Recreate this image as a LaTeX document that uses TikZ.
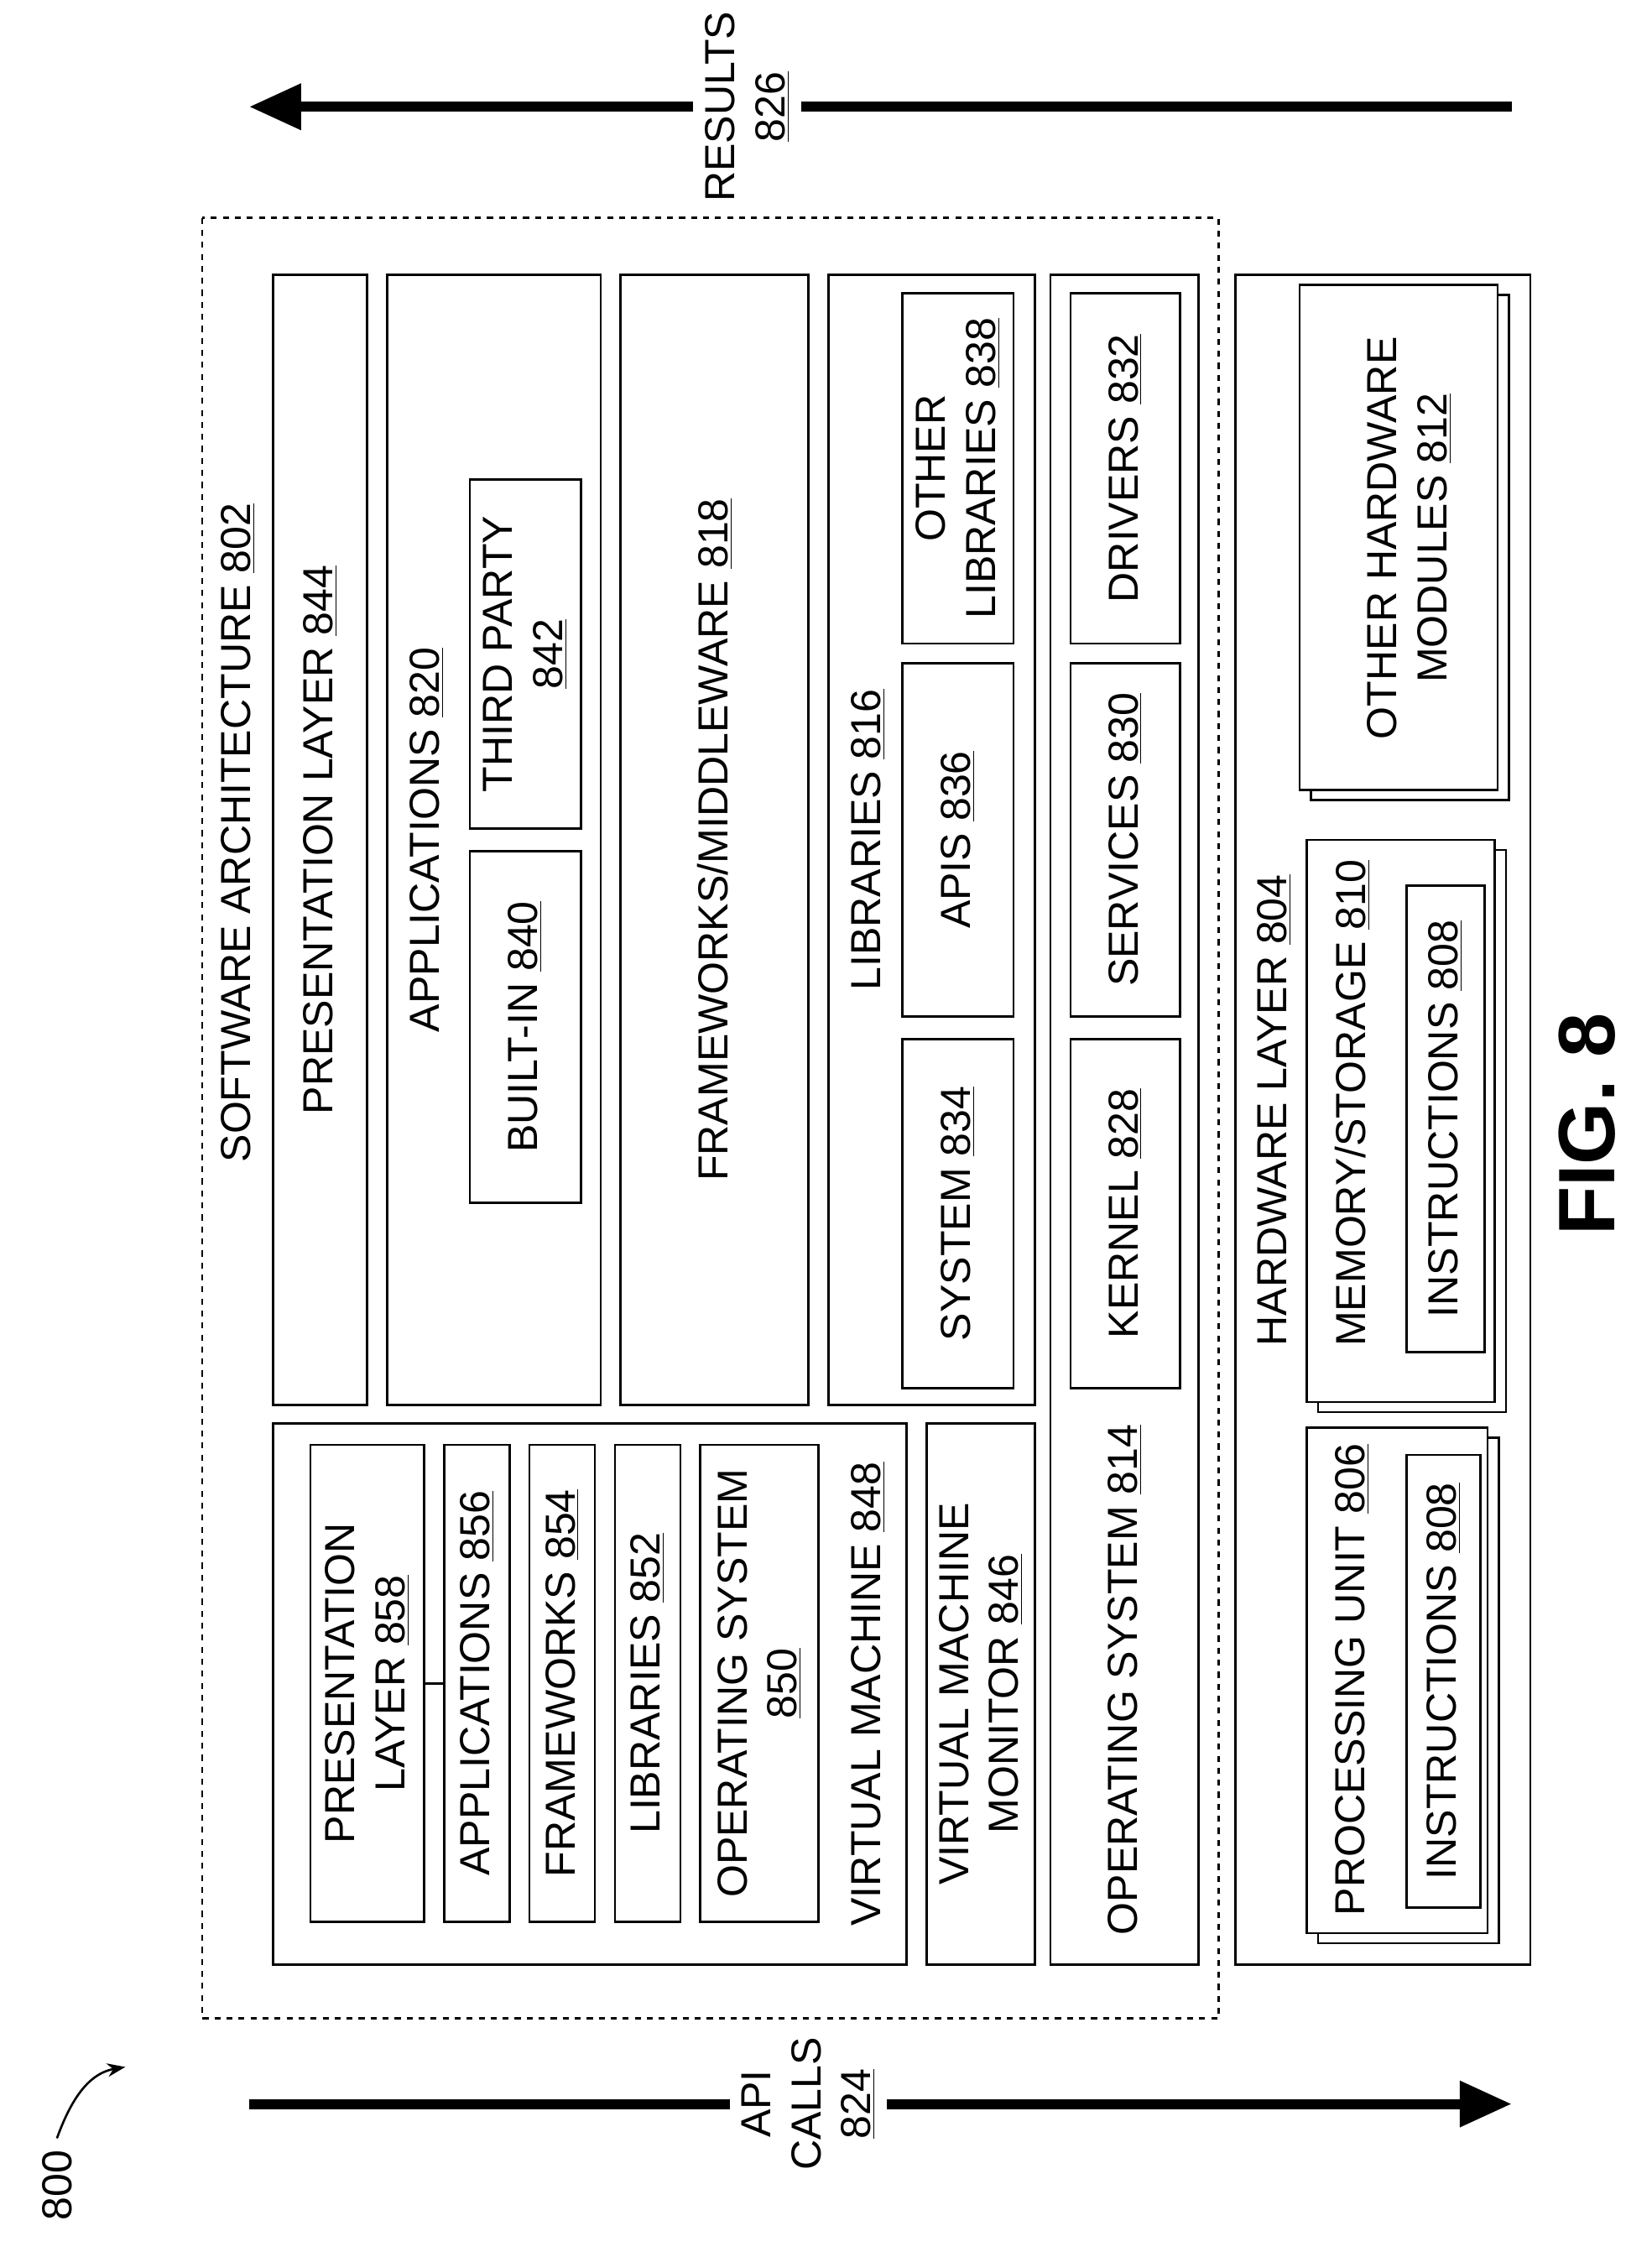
\documentclass[tikz,border=0pt]{standalone}
\usepackage{fontspec}
\setmainfont{Liberation Sans}
\usetikzlibrary{arrows.meta}
\tikzset{
  blk/.style={draw, line width=1.1pt, rotate=90, inner sep=0pt, align=center, font=\fontsize{21}{25}\selectfont},
  lbl/.style={rotate=90, inner sep=0pt, align=center, font=\fontsize{21}{25}\selectfont},
  bigarrow/.style={line width=5pt, -{Triangle[length=26pt,width=22pt]}}
}
% box from (x1,y1) to (x2,y2), text upright along the box
\newcommand\blkbox[6]{%
  \node[blk, minimum width={(#5-#3)*0.25mm}, minimum height={(#4-#2)*0.25mm}] (#1) at ({(#2+#4)/2},{(#3+#5)/2}) {#6};}
\begin{document}
\begin{tikzpicture}[x=0.25mm, y=-0.25mm]
  \useasboundingbox (0,0) rectangle (1160,1582);
  % arrows
  \coordinate (resA) at (1062,75);
  \coordinate (resB) at (175,75);
  \coordinate (apiA) at (175,1478);
  \coordinate (apiB) at (1062,1478);
  \draw[bigarrow] (resA) -- (resB);
  \draw[bigarrow] (apiA) -- (apiB);
  \node[lbl, fill=white, inner sep=6pt] (results) at (525,75) {RESULTS\\\underline{826}};
  \node[lbl, fill=white, inner sep=6pt] (api) at (568,1478) {API\\CALLS\\\underline{824}};
  \node[lbl] (fig800) at (40,1535) {800};
  \coordinate (ref800) at (88,1452);
  \draw[line width=1.1pt, -{Stealth[length=9pt]}] (fig800.east) ++(0,-8) to[out=70,in=190] (ref800);
  % software architecture
  \draw[dashed, line width=1.1pt] (142,153) rectangle (856,1418);
  \node[lbl] (sw) at (167,585) {SOFTWARE ARCHITECTURE \underline{802}};
  \blkbox{pres}{192}{193}{258}{987}{PRESENTATION LAYER \underline{844}}
  \blkbox{apps}{272}{193}{422}{987}{}
  \node[lbl] at (300,590) {APPLICATIONS \underline{820}};
  \blkbox{builtin}{330}{598}{408}{845}{BUILT-IN \underline{840}}
  \blkbox{third}{330}{337}{408}{582}{THIRD PARTY\\\underline{842}}
  \blkbox{frame}{436}{193}{568}{987}{FRAMEWORKS/MIDDLEWARE \underline{818}}
  \blkbox{libs}{582}{193}{727}{987}{}
  \node[lbl] at (610,590) {LIBRARIES \underline{816}};
  \blkbox{system}{634}{730}{712}{975}{SYSTEM \underline{834}}
  \blkbox{apis}{634}{466}{712}{714}{APIS \underline{836}}
  \blkbox{otherlib}{634}{206}{712}{452}{OTHER\\LIBRARIES \underline{838}}
  \blkbox{os}{738}{193}{842}{1380}{}
  \node[lbl] at (790,1180) {OPERATING SYSTEM \underline{814}};
  \blkbox{kernel}{752}{730}{829}{975}{KERNEL \underline{828}}
  \blkbox{services}{752}{466}{829}{714}{SERVICES \underline{830}}
  \blkbox{drivers}{752}{206}{829}{452}{DRIVERS \underline{832}}
  % virtual machine
  \blkbox{vm}{192}{1000}{637}{1380}{}
  \node[lbl] at (610,1190) {VIRTUAL MACHINE \underline{848}};
  \blkbox{vmpres}{218}{1015}{298}{1350}{PRESENTATION\\LAYER \underline{858}}
  \blkbox{vmapps}{312}{1015}{358}{1350}{APPLICATIONS \underline{856}}
  \blkbox{vmframe}{372}{1015}{418}{1350}{FRAMEWORKS \underline{854}}
  \blkbox{vmlibs}{432}{1015}{478}{1350}{LIBRARIES \underline{852}}
  \blkbox{vmos}{492}{1015}{575}{1350}{OPERATING SYSTEM\\\underline{850}}
  \draw[line width=1.1pt] (vmpres.south) -- (vmapps.north);
  \blkbox{vmm}{651}{1000}{727}{1380}{VIRTUAL MACHINE\\MONITOR \underline{846}}
  % hardware
  \blkbox{hw}{868}{193}{1075}{1380}{}
  \node[lbl] at (895,780) {HARDWARE LAYER \underline{804}};
  \foreach \nm/\xa/\ya/\xb/\yb in {pu/918/1003/1045/1358, mem/918/590/1050/985, other/913/200/1052/555}{
    \draw[line width=1.1pt] (\xa+8,\ya+7) rectangle (\xb+8,\yb+7);
    \draw[line width=1.1pt, fill=white] (\xa,\ya) rectangle (\xb,\yb);
  }
  \node[lbl] at (950,1180) {PROCESSING UNIT \underline{806}};
  \blkbox{instrA}{988}{1022}{1040}{1340}{INSTRUCTIONS \underline{808}}
  \node[lbl] at (950,775) {MEMORY/STORAGE \underline{810}};
  \blkbox{instrB}{988}{622}{1043}{950}{INSTRUCTIONS \underline{808}}
  \node[lbl] at (990,378) {OTHER HARDWARE\\MODULES \underline{812}};
  \node[lbl, font=\fontsize{40}{44}\selectfont\bfseries] (fig) at (1115,790) {FIG. 8};
\end{tikzpicture}
\end{document}
